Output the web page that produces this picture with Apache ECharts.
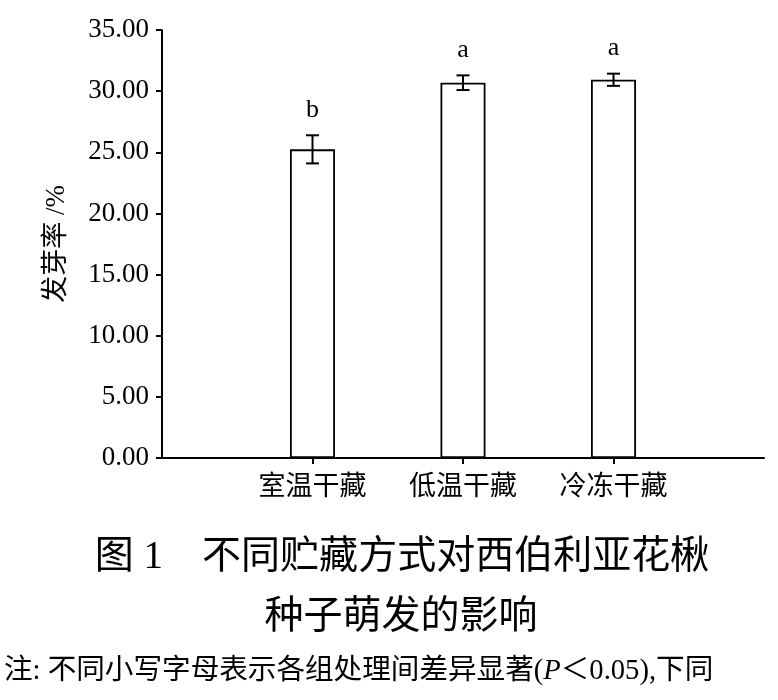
<!DOCTYPE html>
<html>
<head>
<meta charset="utf-8">
<script src="https://cdn.jsdelivr.net/npm/echarts@6/dist/echarts.min.js"></script>
<style>
html,body{margin:0;padding:0;background:#fff;}
#chart{width:778px;height:700px;}
</style>
</head>
<body>
<div id="chart"></div>
<script>
var categories = ['室温干藏', '低温干藏', '冷冻干藏'];
var values = [25.24, 30.69, 30.93];
var errors = [1.15, 0.60, 0.50];
var letters = ['b', 'a', 'a'];
var yTicks = { min: 0, max: 35, interval: 5 };
var yName = '发芽率 /%';
var titleLine1 = '图 1\u3000不同贮藏方式对西伯利亚花楸';
var titleLine2 = '种子萌发的影响';

var FONT = '"Liberation Serif", "Noto Sans CJK SC", serif';

var axisCats = [''].concat(categories).concat(['']);
var barData = ['-'].concat(values).concat(['-']);
var errData = categories.map(function (c, i) {
  return [i + 1, values[i], errors[i], letters[i]];
});

var chart = echarts.init(document.getElementById('chart'));
chart.setOption({
  backgroundColor: '#fff',
  animation: false,
  grid: { left: 162, right: 14, top: 30, bottom: 242, containLabel: false, outerBoundsMode: 'none' },
  xAxis: {
    type: 'category',
    data: axisCats,
    boundaryGap: false,
    axisLine: { lineStyle: { color: '#000', width: 2 } },
    axisTick: {
      length: 6,
      lineStyle: { color: '#000', width: 2 },
      interval: function (idx) { return idx >= 1 && idx <= categories.length; }
    },
    axisLabel: {
      interval: 0,
      margin: 16,
      color: '#000',
      fontSize: 27,
      fontFamily: FONT
    },
    splitLine: { show: false }
  },
  yAxis: {
    type: 'value',
    min: yTicks.min,
    max: yTicks.max,
    interval: yTicks.interval,
    name: yName,
    nameLocation: 'middle',
    nameGap: 92,
    nameRotate: 90,
    nameTextStyle: { color: '#000', fontSize: 27, fontFamily: FONT },
    axisLine: { show: true, lineStyle: { color: '#000', width: 2 } },
    axisTick: { show: true, length: 6, lineStyle: { color: '#000', width: 2 } },
    axisLabel: {
      margin: 13,
      color: '#000',
      fontSize: 27,
      fontFamily: FONT,
      formatter: function (v) { return v.toFixed(2); }
    },
    splitLine: { show: false }
  },
  series: [
    {
      type: 'bar',
      data: barData,
      barWidth: 45,
      itemStyle: { color: '#fff', borderColor: '#000', borderWidth: 1.8 },
      z: 2
    },
    {
      type: 'custom',
      data: errData,
      z: 3,
      renderItem: function (params, api) {
        var x = api.value(0), v = api.value(1), e = api.value(2);
        var letter = errData[params.dataIndex][3];
        var top = api.coord([x, v + e]);
        var bot = api.coord([x, v - e]);
        var hw = 6.5;
        var ls = { stroke: '#000', lineWidth: 2 };
        return {
          type: 'group',
          children: [
            { type: 'line', shape: { x1: top[0], y1: top[1], x2: bot[0], y2: bot[1] }, style: ls },
            { type: 'line', shape: { x1: top[0] - hw, y1: top[1], x2: top[0] + hw, y2: top[1] }, style: ls },
            { type: 'line', shape: { x1: bot[0] - hw, y1: bot[1], x2: bot[0] + hw, y2: bot[1] }, style: ls },
            {
              type: 'text',
              style: {
                text: letter,
                x: top[0],
                y: top[1] - 12,
                textAlign: 'center',
                textVerticalAlign: 'bottom',
                fill: '#000',
                font: '26px ' + FONT
              }
            }
          ]
        };
      }
    }
  ],
  graphic: [
    {
      type: 'text',
      x: 402,
      y: 538,
      style: { text: titleLine1, fill: '#000', font: '39px ' + FONT, textAlign: 'center', textVerticalAlign: 'top' }
    },
    {
      type: 'text',
      x: 401,
      y: 598,
      style: { text: titleLine2, fill: '#000', font: '39px ' + FONT, textAlign: 'center', textVerticalAlign: 'top' }
    },
    {
      type: 'text',
      left: 4,
      top: 657,
      style: {
        text: '{n|注: 不同小写字母表示各组处理间差异显著(}{i|P}{n|＜0.05),下同}',
        rich: {
          n: { fill: '#000', fontSize: 28.6, fontFamily: FONT },
          i: { fill: '#000', fontSize: 28.6, fontFamily: FONT, fontStyle: 'italic' }
        }
      }
    }
  ]
});
</script>
</body>
</html>
